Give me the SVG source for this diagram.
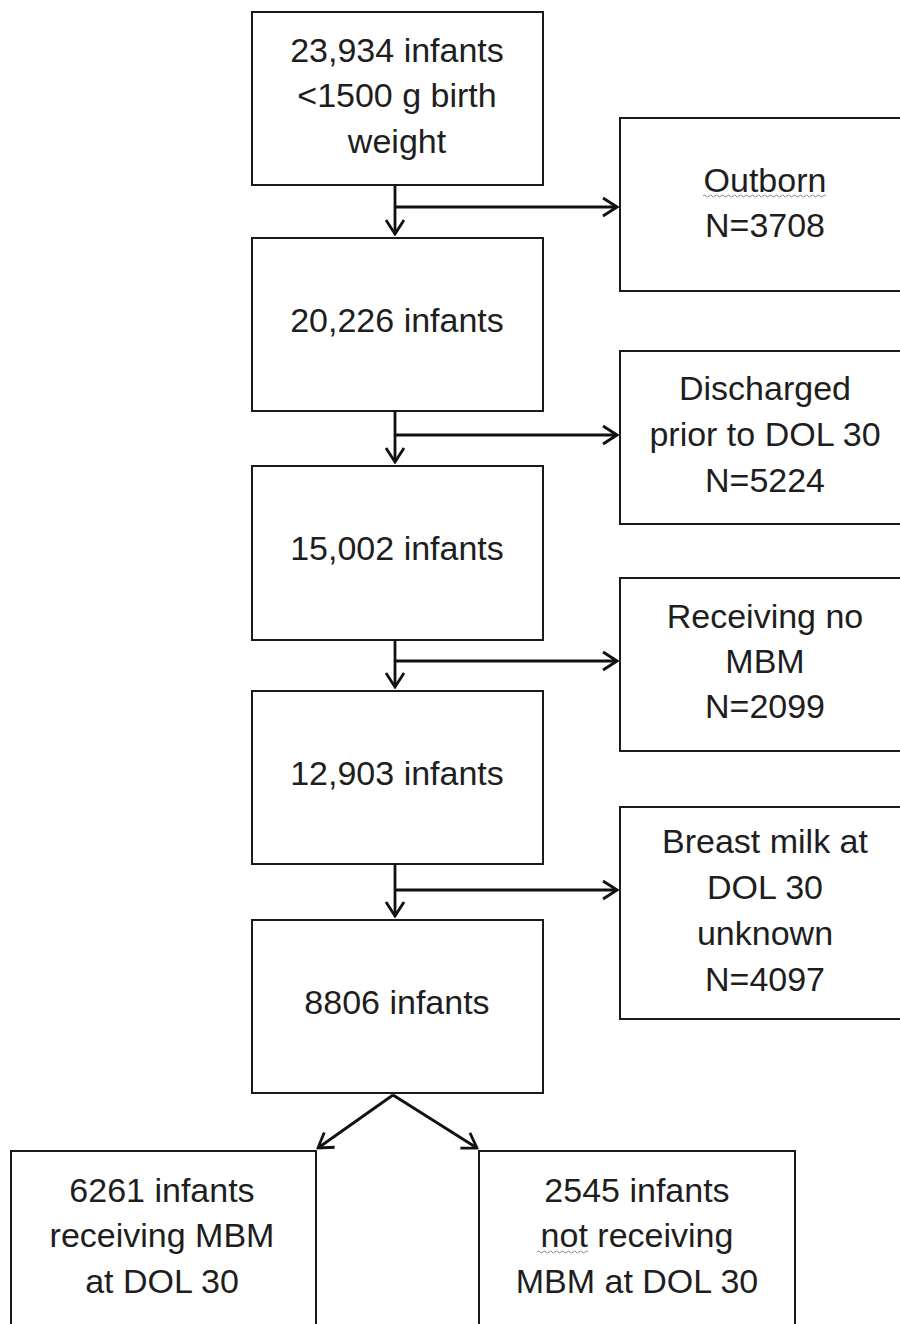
<svg xmlns="http://www.w3.org/2000/svg" width="900" height="1324" viewBox="0 0 900 1324">
<style>
.box{fill:#fff;stroke:#1a1a1a;stroke-width:2}
.t{font-family:"Liberation Sans",Arial,sans-serif;font-size:34px;fill:#1e1e1e;text-anchor:middle}
.c{fill:none;stroke:#111;stroke-width:2.8}
.sq{fill:none;stroke:#888;stroke-width:1}
</style>
<defs>
<marker id="ah" viewBox="0 0 20 24" refX="18" refY="12" markerWidth="20" markerHeight="24" markerUnits="userSpaceOnUse" orient="auto">
<path d="M4,3 L18,12 L4,21" fill="none" stroke="#111" stroke-width="2.8"/>
</marker>
</defs>
<rect width="900" height="1324" fill="#fff"/>
<g id="n1"><rect class="box" x="252" y="12" width="291" height="173"/>
<text class="t" x="397" y="62">23,934 infants</text><text class="t" x="397" y="107">&lt;1500 g birth</text><text class="t" x="397" y="153">weight</text></g>
<g id="n2"><rect class="box" x="252" y="238" width="291" height="173"/>
<text class="t" x="397" y="332">20,226 infants</text></g>
<g id="n3"><rect class="box" x="252" y="466" width="291" height="174"/>
<text class="t" x="397" y="560">15,002 infants</text></g>
<g id="n4"><rect class="box" x="252" y="691" width="291" height="173"/>
<text class="t" x="397" y="785">12,903 infants</text></g>
<g id="n5"><rect class="box" x="252" y="920" width="291" height="173"/>
<text class="t" x="397" y="1014">8806 infants</text></g>
<g id="e1"><rect class="box" x="620" y="118" width="310" height="173"/>
<text class="t" x="765" y="192">Outborn</text>
<path class="sq" d="M703,196 q1.5,-2 3,0 t3,0 t3,0 t3,0 t3,0 t3,0 t3,0 t3,0 t3,0 t3,0 t3,0 t3,0 t3,0 t3,0 t3,0 t3,0 t3,0 t3,0 t3,0 t3,0 t3,0 t3,0 t3,0 t3,0 t3,0 t3,0 t3,0 t3,0 t3,0 t3,0 t3,0 t3,0 t3,0 t3,0 t3,0 t3,0 t3,0 t3,0 t3,0 t3,0 t3,0"/>
<text class="t" x="765" y="237">N=3708</text></g>
<g id="e2"><rect class="box" x="620" y="351" width="310" height="173"/>
<text class="t" x="765" y="400">Discharged</text><text class="t" x="765" y="446">prior to DOL 30</text><text class="t" x="765" y="492">N=5224</text></g>
<g id="e3"><rect class="box" x="620" y="578" width="310" height="173"/>
<text class="t" x="765" y="628">Receiving no</text><text class="t" x="765" y="673">MBM</text><text class="t" x="765" y="718">N=2099</text></g>
<g id="e4"><rect class="box" x="620" y="807" width="310" height="212"/>
<text class="t" x="765" y="853">Breast milk at</text><text class="t" x="765" y="899">DOL 30</text><text class="t" x="765" y="945">unknown</text><text class="t" x="765" y="991">N=4097</text></g>
<g id="b1"><rect class="box" x="11" y="1151" width="305" height="200"/>
<text class="t" x="162" y="1202">6261 infants</text><text class="t" x="162" y="1247">receiving MBM</text><text class="t" x="162" y="1293">at DOL 30</text></g>
<g id="b2"><rect class="box" x="479" y="1151" width="316" height="200"/>
<text class="t" x="637" y="1202">2545 infants</text><text class="t" x="637" y="1247">not receiving</text>
<path class="sq" d="M537,1252 q1.5,-2 3,0 t3,0 t3,0 t3,0 t3,0 t3,0 t3,0 t3,0 t3,0 t3,0 t3,0 t3,0 t3,0 t3,0 t3,0 t3,0 t3,0"/>
<text class="t" x="637" y="1293">MBM at DOL 30</text></g>
<g id="connectors">
<path class="c" d="M395,185 V234" marker-end="url(#ah)"/>
<path class="c" d="M395,207 H617" marker-end="url(#ah)"/>
<path class="c" d="M395,411 V462" marker-end="url(#ah)"/>
<path class="c" d="M395,435 H617" marker-end="url(#ah)"/>
<path class="c" d="M395,640 V687" marker-end="url(#ah)"/>
<path class="c" d="M395,661 H617" marker-end="url(#ah)"/>
<path class="c" d="M395,864 V916" marker-end="url(#ah)"/>
<path class="c" d="M395,890 H617" marker-end="url(#ah)"/>
<path class="c" d="M393,1095 L318,1148" marker-end="url(#ah)"/>
<path class="c" d="M393,1095 L477,1148" marker-end="url(#ah)"/>
</g>
</svg>
